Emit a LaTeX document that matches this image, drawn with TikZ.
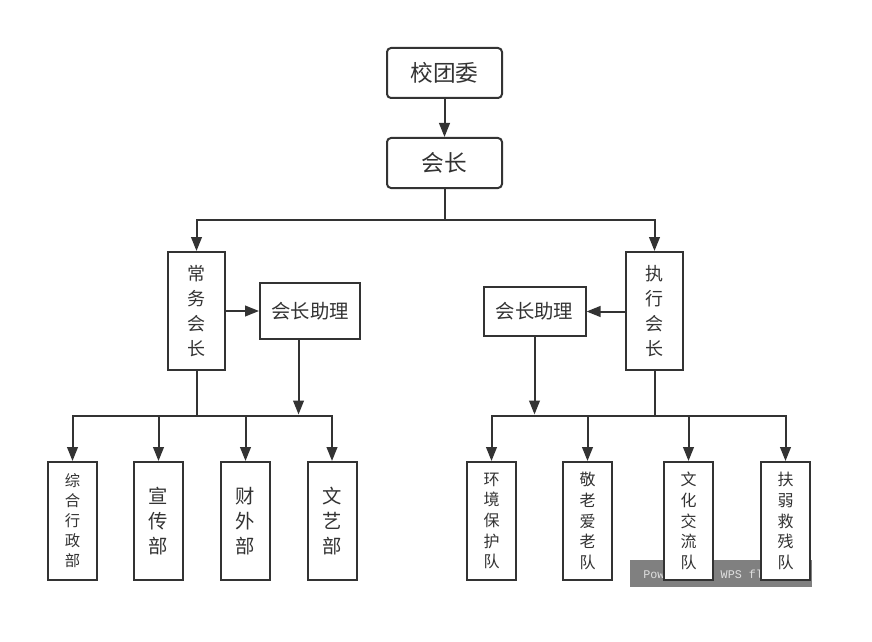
\documentclass[tikz,border=0pt]{standalone}
\usepackage{fontspec}
\setmainfont{Noto Sans CJK SC}
\newfontfamily\wmfont{Liberation Mono}
\usetikzlibrary{arrows.meta}
\definecolor{ln}{HTML}{333333}
\begin{document}
\begin{tikzpicture}[x=0.75pt,y=-0.75pt,
  box/.style={draw=ln,line width=1.5pt,fill=white,inner sep=0pt,align=center,text=ln},
  rbox/.style={box,rounded corners=3pt,minimum width=86.25pt,minimum height=37.5pt,font=\fontsize{17}{20}\selectfont},
  vbox/.style={box,minimum width=42.75pt,minimum height=88.5pt,font=\fontsize{13.5}{18.75}\selectfont},
  abox/.style={box,font=\fontsize{14.5}{18}\selectfont},
  dbox/.style={box,minimum width=36.75pt,minimum height=88.5pt},
  small/.style={font=\fontsize{11.5}{15}\selectfont},
  big/.style={font=\fontsize{14.5}{18.75}\selectfont},
  arr/.style={draw=ln,line width=1.5pt,-{Triangle[width=8pt,length=10.5pt]}},
  con/.style={draw=ln,line width=1.5pt}]
\useasboundingbox[fill=white] (0,0) rectangle (872,642);
% watermark
\fill[fill=black!50] (630,560) rectangle (812,587);
\node[anchor=base west,inner sep=0pt,text=black!12,font=\wmfont\fontsize{8.8}{10}\selectfont] (wm) at (643,578) {Powered by WPS flow};
% nodes
\node[rbox] (tw) at (444.5,73) {校团委};
\node[rbox] (hz) at (444.5,163) {会长};
\node[vbox] (cw) at (196.5,311) {常\\务\\会\\长};
\node[vbox] (zx) at (654.5,311) {执\\行\\会\\长};
\node[abox,minimum width=75pt,minimum height=42pt] (la) at (310,311) {会长助理};
\node[abox,minimum width=76.5pt,minimum height=37pt] (ra) at (534.5,311.5) {会长助理};
\node[dbox,small] (d1) at (72.5,521) {综\\合\\行\\政\\部};
\node[dbox,big] (d2) at (158.5,521) {宣\\传\\部};
\node[dbox,big] (d3) at (245.5,521) {财\\外\\部};
\node[dbox,big] (d4) at (332,521) {文\\艺\\部};
\node[dbox,font=\fontsize{12}{15.5}\selectfont] (e1) at (491.5,521) {环\\境\\保\\护\\队};
\node[dbox,font=\fontsize{12}{15.5}\selectfont] (e2) at (587.5,521) {敬\\老\\爱\\老\\队};
\node[dbox,font=\fontsize{12}{15.5}\selectfont] (e3) at (688.5,521) {文\\化\\交\\流\\队};
\node[dbox,font=\fontsize{12}{15.5}\selectfont] (e4) at (785.5,521) {扶\\弱\\救\\残\\队};
% coordinates
\coordinate (tb) at (444.5,219.5);
\coordinate (lb) at (196.5,415.5);
\coordinate (rb) at (654.5,415.5);
\coordinate (las) at ([xshift=-8.6pt]la.south);
% connectors
\draw[arr] (tw) -- (hz);
\draw[con] (hz) -- (tb);
\draw[arr] (tb) -| (cw.north);
\draw[arr] (tb) -| (zx.north);
\draw[arr] (cw.east |- la.west) -- (la.west);
\draw[arr] (zx.west |- ra.east) -- (ra.east);
\draw[con] (cw) -- (lb);
\draw[con] (zx) -- (rb);
\draw[arr] (las) -- ([yshift=0.75pt]las |- lb);
\draw[arr] (ra.south) -- ([yshift=0.75pt]ra.south |- rb);
\draw[arr] (lb) -| (d1.north);
\draw[arr] (lb) -| (d2.north);
\draw[arr] (lb) -| (d3.north);
\draw[arr] (lb) -| (d4.north);
\draw[arr] (rb) -| (e1.north);
\draw[arr] (rb) -| (e2.north);
\draw[arr] (rb) -| (e3.north);
\draw[arr] (rb) -| (e4.north);
\end{tikzpicture}
\end{document}
